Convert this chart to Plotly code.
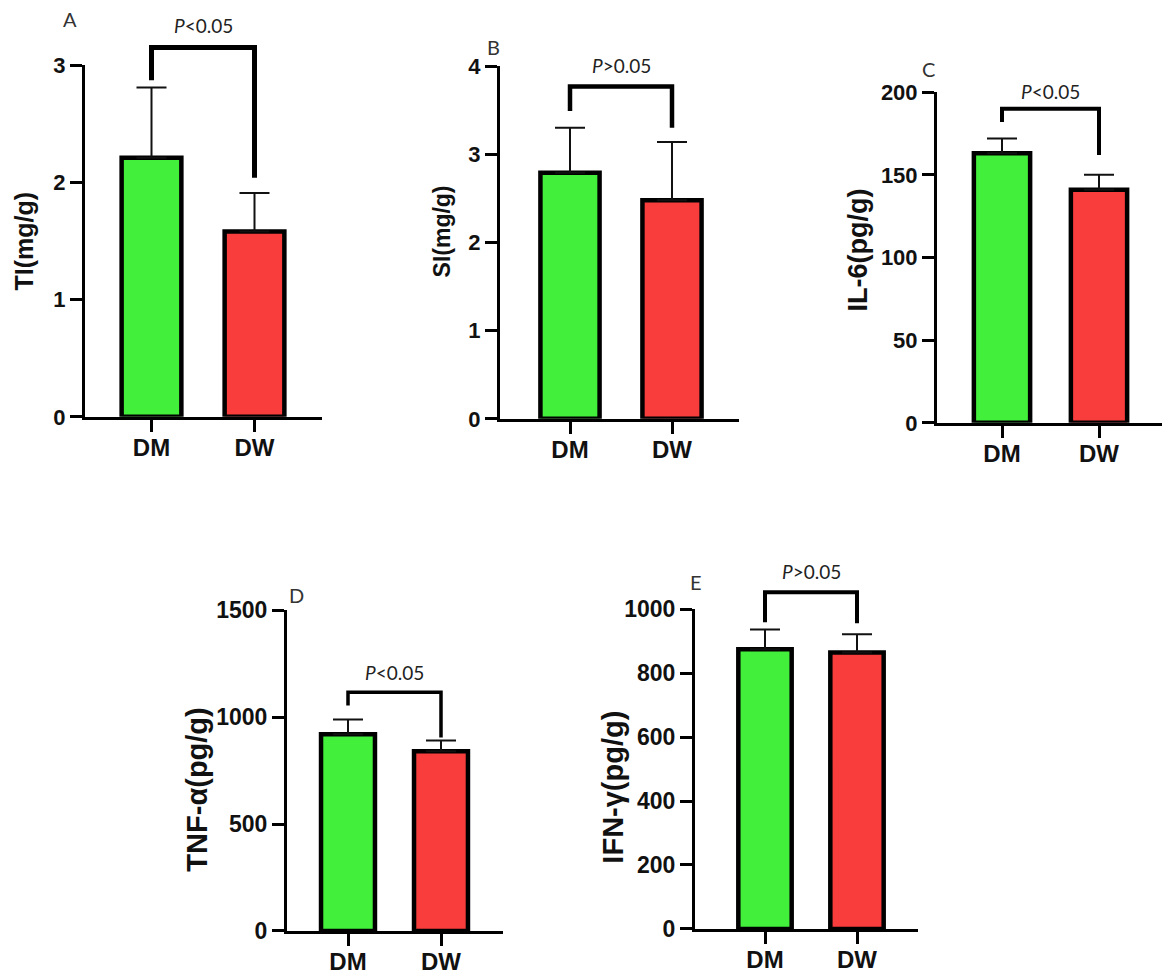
import plotly.graph_objects as go

W, H = 1170, 979
# the page is photographed a little squeezed in height: figure rows land between these two y pixels
TOP, BOT = 14, 965

groups = ["DM", "DW"]
bar_colors = ["#42f03c", "#f93d3d"]

# A - TI
ti_mean = [2.21, 1.58]
ti_err = [0.60, 0.33]
ti_bracket = [2.87, 3.15, 3.15, 2.04]

# B - SI
si_mean = [2.79, 2.48]
si_err = [0.51, 0.66]
si_bracket = [3.49, 3.77, 3.77, 3.30]

# C - IL-6
il6_mean = [163, 141]
il6_err = [9, 9]
il6_bracket = [182, 190, 190, 162]

# D - TNF-a
tnf_mean = [920, 840]
tnf_err = [69, 51]
tnf_bracket = [1055, 1116, 1116, 905]

# E - IFN-g
ifn_mean = [875, 865]
ifn_err = [62, 57]
ifn_bracket = [959, 1053, 1053, 956]

panels = [
    # geo (px): yaxis x, xaxis end, y of 0, y of top tick, DM centre, DW centre
    dict(letter="A", title="TI(mg/g)", mean=ti_mean, err=ti_err, br=ti_bracket, p="<i>P</i>&lt;0.05",
         ymax=3, dtick=1, geo=(85, 322, 417, 66, 151.5, 254.5), letter_xy=(70, 20), title_xy=(24, 242),
         tsize=25, ysize=22, bw=5, pshift=9),
    dict(letter="B", title="SI(mg/g)", mean=si_mean, err=si_err, br=si_bracket, p="<i>P</i>&gt;0.05",
         ymax=4, dtick=1, geo=(500, 739, 419, 67, 570, 672), letter_xy=(493, 48), title_xy=(442, 232),
         tsize=23, ysize=22, bw=4.5, pshift=7),
    dict(letter="C", title="IL-6(pg/g)", mean=il6_mean, err=il6_err, br=il6_bracket, p="<i>P</i>&lt;0.05",
         ymax=200, dtick=50, geo=(937, 1162, 423, 93, 1002, 1099), letter_xy=(928, 70), title_xy=(858, 250),
         tsize=27, ysize=22, bw=4, pshift=4),
    dict(letter="D", title="TNF-α(pg/g)", mean=tnf_mean, err=tnf_err, br=tnf_bracket, p="<i>P</i>&lt;0.05",
         ymax=1500, dtick=500, geo=(287, 503, 930, 610, 348, 441), letter_xy=(296, 595), title_xy=(197, 789),
         tsize=29, ysize=23, bw=3.5, pshift=6),
    dict(letter="E", title="IFN-γ(pg/g)", mean=ifn_mean, err=ifn_err, br=ifn_bracket, p="<i>P</i>&gt;0.05",
         ymax=1000, dtick=200, geo=(695, 918, 928, 609, 765, 857), letter_xy=(696, 582), title_xy=(613, 787),
         tsize=29, ysize=23, bw=4, pshift=7),
]

font_main = "Liberation Sans, Arial, sans-serif"
font_p = "Lato, Open Sans, sans-serif"


def fy(py):
    # pixel row in the picture -> paper fraction
    return min(1, max(0, (BOT - py) / (BOT - TOP)))


fig = go.Figure()
layout = {}
annotations = []
n = len(panels)

for i, pn in enumerate(panels):
    ax_x, x_end, y0, ytop, c0, c1 = pn["geo"]
    step = c1 - c0
    xr = [-(c0 - ax_x) / step, 1 + (x_end - c1) / step]
    k = i + 1
    ko = i + 1 + n
    xd = [ax_x / W, x_end / W]
    # taller invisible axes over each panel so the brackets are not clipped
    top_ov = max(TOP, ytop - 75)
    ov_max = pn["ymax"] * (y0 - top_ov) / (y0 - ytop)

    fig.add_trace(go.Bar(
        x=[0, 1], y=pn["mean"], width=0.58,
        marker=dict(color=bar_colors, line=dict(color="black", width=4.5)),
        error_y=dict(type="data", symmetric=False, array=pn["err"], arrayminus=[0, 0],
                     color="#111", thickness=2, width=15),
        xaxis=f"x{k}", yaxis=f"y{k}", showlegend=False,
    ))
    fig.add_trace(go.Scatter(
        x=[0, 0, 1, 1], y=pn["br"], mode="lines",
        line=dict(color="black", width=pn["bw"]),
        xaxis=f"x{ko}", yaxis=f"y{ko}", showlegend=False,
    ))

    layout[f"xaxis{k}"] = dict(
        domain=xd, range=xr, anchor=f"y{k}", tickvals=[0, 1], ticktext=groups,
        showline=True, linecolor="black", linewidth=3, ticks="outside", ticklen=12,
        tickwidth=3, tickcolor="black", showgrid=False, zeroline=False,
        ticklabelstandoff=-5,
        tickfont=dict(family=font_main, size=24, color="#111", weight="bold"),
    )
    layout[f"yaxis{k}"] = dict(
        domain=[fy(y0), fy(ytop)], range=[0, pn["ymax"]], anchor=f"x{k}",
        dtick=pn["dtick"], tick0=0, showline=True, linecolor="black", linewidth=3,
        ticks="outside", ticklen=12, tickwidth=3, tickcolor="black",
        showgrid=False, zeroline=False,
        tickfont=dict(family=font_main, size=pn["ysize"], color="#111", weight="bold"),
    )
    layout[f"xaxis{ko}"] = dict(domain=xd, range=xr, anchor=f"y{ko}", visible=False)
    layout[f"yaxis{ko}"] = dict(domain=[fy(y0), fy(top_ov)], range=[0, ov_max],
                                anchor=f"x{ko}", visible=False)

    annotations.append(dict(
        x=0.5, y=pn["br"][1], xref=f"x{ko}", yref=f"y{ko}", text=pn["p"], showarrow=False,
        xanchor="center", yanchor="bottom", yshift=pn["pshift"],
        font=dict(family=font_p, size=19, color="#222"),
    ))
    annotations.append(dict(
        x=pn["letter_xy"][0] / W, y=fy(pn["letter_xy"][1]), xref="paper", yref="paper",
        text=pn["letter"], showarrow=False, xanchor="center", yanchor="middle",
        font=dict(family=font_p, size=20, color="#333"),
    ))
    annotations.append(dict(
        x=pn["title_xy"][0] / W, y=fy(pn["title_xy"][1]), xref="paper", yref="paper",
        text=pn["title"], textangle=-90, showarrow=False, xanchor="center", yanchor="middle",
        font=dict(family=font_main, size=pn["tsize"], color="#111", weight="bold"),
    ))

fig.update_layout(
    width=W, height=H, margin=dict(l=0, r=0, t=0, b=0),
    paper_bgcolor="white", plot_bgcolor="rgba(0,0,0,0)",
    annotations=annotations, **layout,
)

fig.write_html("out.html", config={"displayModeBar": False},
               post_script="document.body.style.margin='0';")
